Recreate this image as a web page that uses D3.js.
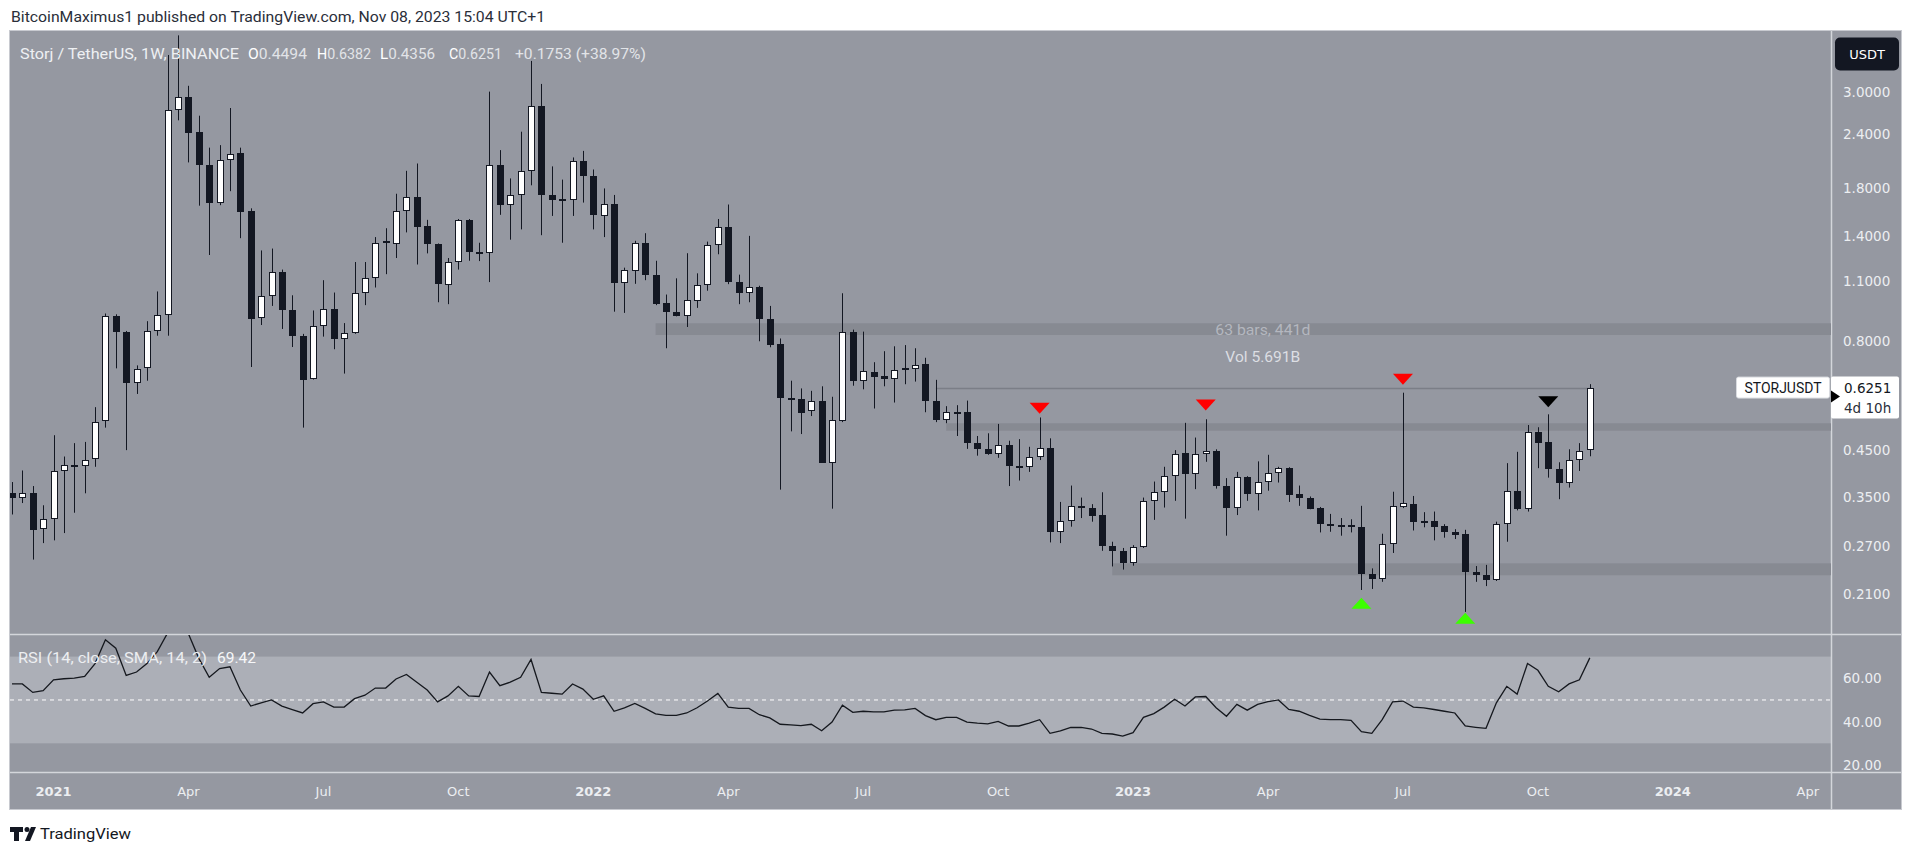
<!DOCTYPE html>
<html><head><meta charset="utf-8">
<script src="https://cdn.jsdelivr.net/npm/d3@7"></script>
<style>
html,body{margin:0;padding:0;background:#fff;overflow:hidden;}
svg{display:block;}
</style></head><body>
<svg id="chart" width="1909" height="848"></svg>
<script>
// ---------------- DATA ----------------
const firstWeek = "2020-12-07"; // weekly candles, Monday open
const opens = [0.358,0.350,0.358,0.297,0.312,0.402,0.416,0.414,0.429,0.526,
0.918,0.843,0.641,0.695,0.846,0.922,2.728,2.917,2.431,2.037,
1.670,2.095,2.173,1.593,0.905,1.016,1.159,0.946,0.825,0.657,
0.867,0.952,0.809,0.835,1.037,1.120,1.345,1.341,1.600,1.721,
1.479,1.341,1.080,1.219,1.524,1.283,1.277,2.033,1.653,1.739,
1.972,2.790,1.739,1.694,1.694,2.079,1.924,1.556,1.660,1.091,
1.163,1.350,1.140,0.980,0.937,0.918,0.990,1.080,1.336,1.464,
1.097,1.037,1.069,0.899,0.788,0.594,0.590,0.553,0.585,0.421,
0.526,0.843,0.650,0.680,0.667,0.657,0.690,0.690,0.709,0.585,
0.528,0.552,0.552,0.467,0.453,0.440,0.462,0.414,0.412,0.433,
0.456,0.292,0.309,0.334,0.331,0.319,0.271,0.264,0.248,0.270,
0.344,0.361,0.393,0.444,0.396,0.441,0.449,0.373,0.331,0.391,
0.356,0.381,0.398,0.410,0.356,0.350,0.331,0.304,0.303,0.303,
0.300,0.2335,0.227,0.273,0.333,0.338,0.307,0.309,0.301,0.291,
0.288,0.236,0.232,0.226,0.304,0.362,0.329,0.496,0.470,0.408,
0.379,0.427,0.4494];
const highs = [0.380,0.404,0.372,0.336,0.487,0.435,0.467,0.470,0.565,0.928,
0.924,0.846,0.705,0.891,1.043,3.65,4.05,3.10,2.646,2.234,
2.264,2.756,2.234,1.620,1.296,1.309,1.171,1.022,0.833,0.943,
1.107,1.037,0.882,1.219,1.219,1.391,1.458,1.750,1.976,2.054,
1.524,1.345,1.245,1.531,1.531,1.350,3.006,2.205,1.898,2.431,
3.537,3.131,2.023,1.886,2.121,2.196,1.990,1.800,1.739,1.183,
1.364,1.420,1.227,1.026,1.118,1.277,1.148,1.358,1.531,1.653,
1.140,1.400,1.075,0.966,0.813,0.650,0.624,0.616,0.631,0.597,
1.033,0.852,0.843,0.717,0.760,0.780,0.785,0.772,0.734,0.653,
0.568,0.571,0.585,0.485,0.492,0.517,0.473,0.477,0.458,0.535,
0.479,0.342,0.373,0.350,0.338,0.360,0.277,0.268,0.272,0.350,
0.381,0.412,0.450,0.520,0.481,0.530,0.452,0.388,0.401,0.392,
0.424,0.439,0.412,0.411,0.373,0.352,0.333,0.321,0.314,0.312,
0.335,0.2405,0.289,0.361,0.610,0.353,0.324,0.325,0.304,0.296,
0.295,0.2435,0.245,0.308,0.420,0.446,0.514,0.508,0.544,0.422,
0.452,0.467,0.6382];
const lows = [0.320,0.340,0.252,0.275,0.279,0.290,0.323,0.358,0.412,0.507,
0.694,0.450,0.606,0.650,0.825,0.825,2.582,2.066,1.643,1.265,
1.647,1.774,1.383,0.699,0.873,0.966,0.855,0.777,0.507,0.654,
0.821,0.768,0.675,0.833,0.970,1.065,1.143,1.245,1.426,1.203,
1.276,0.985,0.975,1.171,1.227,1.225,1.096,1.565,1.372,1.449,
1.830,1.405,1.556,1.350,1.556,1.670,1.449,1.391,0.937,0.931,
1.086,1.107,0.970,0.772,0.914,0.864,0.956,1.047,1.270,1.084,
0.975,0.985,0.801,0.776,0.365,0.497,0.490,0.539,0.421,0.330,
0.522,0.633,0.621,0.561,0.631,0.579,0.638,0.647,0.550,0.522,
0.519,0.485,0.453,0.437,0.439,0.432,0.372,0.383,0.401,0.427,
0.276,0.275,0.300,0.314,0.308,0.264,0.243,0.239,0.244,0.268,
0.311,0.332,0.344,0.313,0.366,0.423,0.367,0.286,0.319,0.344,
0.327,0.363,0.379,0.342,0.335,0.329,0.291,0.292,0.286,0.291,
0.2145,0.2157,0.224,0.261,0.331,0.294,0.299,0.279,0.283,0.281,
0.191,0.224,0.219,0.225,0.277,0.327,0.325,0.409,0.389,0.347,
0.369,0.403,0.4356];
const closes = [0.350,0.358,0.295,0.312,0.402,0.415,0.413,0.428,0.523,0.914,
0.841,0.643,0.691,0.846,0.922,2.728,2.917,2.420,2.033,1.670,
2.095,2.164,1.588,0.903,1.020,1.155,0.946,0.825,0.654,0.867,
0.952,0.809,0.835,1.037,1.120,1.350,1.352,1.600,1.721,1.469,
1.344,1.084,1.219,1.524,1.283,1.280,2.033,1.653,1.739,1.972,
2.790,1.739,1.694,1.697,2.079,1.924,1.562,1.660,1.091,1.166,
1.350,1.136,0.975,0.937,0.918,0.996,1.080,1.336,1.464,1.097,
1.037,1.069,0.899,0.785,0.594,0.592,0.548,0.585,0.421,0.528,
0.843,0.650,0.684,0.664,0.657,0.688,0.691,0.706,0.584,0.527,
0.552,0.550,0.467,0.453,0.441,0.462,0.414,0.413,0.433,0.456,
0.292,0.309,0.335,0.332,0.318,0.271,0.264,0.248,0.270,0.344,
0.361,0.393,0.440,0.396,0.441,0.449,0.372,0.331,0.391,0.356,
0.381,0.398,0.409,0.355,0.350,0.330,0.304,0.302,0.302,0.299,
0.2335,0.227,0.273,0.335,0.340,0.307,0.308,0.300,0.291,0.287,
0.236,0.232,0.226,0.304,0.362,0.329,0.496,0.468,0.407,0.379,
0.427,0.449,0.6251];
const rsiValues = [57.4,57.4,53.5,54.3,59.3,59.8,60.1,60.9,66.8,77.8,
73.9,61.3,62.9,66.8,72.3,81,84,80.5,69.2,60.5,
64.5,65.3,54.6,47.2,48.7,50,47.2,45.6,44,48.3,
49.1,46.7,46.7,50.6,52.2,55.5,55.5,59.7,61.8,58.2,
54.6,49.1,51.9,56.3,51.9,51.6,62.9,56.6,58.2,60.5,
68.7,53.5,53.1,52.7,57.4,55,50.3,51.9,44.8,46.4,
48.4,46.1,43.6,42.9,42.9,44,46.4,49.5,53,46.7,
46.1,46.1,43.2,41.7,38.8,38.5,38.2,38.8,35.8,39.8,
47.6,44.3,44.8,44.5,44.5,45.3,45.4,46.1,42.8,40.9,
42,42,39.8,39.3,39,40.1,38,38,39.3,40.9,
34.6,35.7,37.3,37.4,36.6,34.6,34.3,33.3,34.9,42,
43.7,46.7,50.3,47.2,51.4,51.6,46.4,42.5,48,45.3,
48,49.2,50,45.6,44.8,42.9,41.2,40.9,40.9,40.6,
35.4,34.6,40.9,49.1,49.5,46.7,46.4,45.6,44.8,44,
38,37.4,36.9,48.7,56.3,52.7,66.8,63.7,56.3,53.8,
57.4,59.3,69.42];

const priceTicks = [3.0,2.4,1.8,1.4,1.1,0.8,0.45,0.35,0.27,0.21];
const rsiTicks = [60,40,20];
const timeTickDates = ["2021-01-04","2021-04-05","2021-07-05","2021-10-04","2022-01-03","2022-04-04","2022-07-04","2022-10-03","2023-01-02","2023-04-03","2023-07-03","2023-10-02","2024-01-01","2024-04-01"];
const timeTickLabels = ["2021","Apr","Jul","Oct","2022","Apr","Jul","Oct","2023","Apr","Jul","Oct","2024","Apr"];

// drawn zones (start candle index, low price, high price)
const zoneStart = [62, 90, 106];
const zoneLow  = [0.828, 0.4987, 0.2319];
const zoneHigh = [0.881, 0.5187, 0.2470];
// horizontal line
const hLineStart = 89, hLineEnd = 152, hLinePrice = 0.624;
// markers
const markerIdx   = [99, 115, 134, 148, 130, 140];
const markerPrice = [0.5616, 0.5714, 0.6549, 0.5815, 0.1999, 0.1846];
const markerKind  = ["red","red","red","black","green","green"];
// measurement texts
const measureIdx = 120.5;
const measureText = ["63 bars, 441d", "Vol 5.691B"];
const measurePrice = [0.8504, 0.737];

const lastClose = 0.6251;
const legendParts = [["","Storj / TetherUS, 1W, BINANCE"],["O","0.4494"],["H","0.6382"],["L","0.4356"],["C","0.6251"],["","+0.1753 (+38.97%)"]];

// ---------------- LAYOUT ----------------
const svg = d3.select("#chart");
const weekMs = 7*24*3600*1000;
const t0 = new Date(firstWeek + "T00:00:00Z").getTime();
const dates = opens.map((_, i) => new Date(t0 + i*weekMs));

const plotL = 10, plotR = 1831, mainT = 31, mainB = 634, rsiT = 635, rsiB = 772, axB = 809, frameR = 1901;

const x = d3.scaleUtc().domain([dates[0], dates[dates.length-1]]).range([12, 1589.8]);
const xi = i => x(new Date(t0 + i*weekMs));
const y = d3.scaleLog().domain([0.21, 3.0]).range([594, 92]);
const yr = d3.scaleLinear().domain([20, 60]).range([765, 678.3]);

const BG = "#9598a1", DARK = "#131722";

// header
svg.append("text").attr("x", 11).attr("y", 21.5)
  .attr("font-family","Roboto, sans-serif").attr("font-size",15).attr("fill","#2a2e39")
  .attr("textLength",534).attr("lengthAdjust","spacingAndGlyphs")
  .text("BitcoinMaximus1 published on TradingView.com, Nov 08, 2023 15:04 UTC+1");

// frame
svg.append("rect").attr("x",plotL-0.5).attr("y",mainT-0.5).attr("width",frameR-plotL+1).attr("height",axB-mainT+1)
  .attr("fill",BG).attr("stroke","#c8cad0").attr("stroke-width",1);

const defs = svg.append("defs");
defs.append("clipPath").attr("id","clipMain").append("rect").attr("x",plotL).attr("y",mainT).attr("width",plotR-plotL).attr("height",mainB-mainT);
defs.append("clipPath").attr("id","clipRsi").append("rect").attr("x",plotL).attr("y",rsiT).attr("width",plotR-plotL).attr("height",rsiB-rsiT);

// RSI band
svg.append("rect").attr("x",plotL).attr("y",yr(70)).attr("width",plotR-plotL).attr("height",yr(30)-yr(70)).attr("fill","#acafb7");

// separators
svg.append("line").attr("x1",plotL).attr("x2",frameR).attr("y1",mainB+0.5).attr("y2",mainB+0.5).attr("stroke","#d4d6db").attr("stroke-width",1.5);
svg.append("line").attr("x1",plotL).attr("x2",frameR).attr("y1",rsiB+0.5).attr("y2",rsiB+0.5).attr("stroke","#d4d6db").attr("stroke-width",1.5);
svg.append("line").attr("x1",plotR+0.5).attr("x2",plotR+0.5).attr("y1",mainT).attr("y2",axB).attr("stroke","#d4d6db").attr("stroke-width",1.5);

const main = svg.append("g").attr("clip-path","url(#clipMain)");

// zones
main.selectAll("rect.zone").data(zoneStart).join("rect").attr("class","zone")
  .attr("x", d => xi(d)).attr("width", (d) => plotR - xi(d))
  .attr("y", (d,i) => y(zoneHigh[i])).attr("height", (d,i) => y(zoneLow[i]) - y(zoneHigh[i]))
  .attr("fill","#878a92");

// horizontal line
main.append("line").attr("x1",xi(hLineStart)).attr("x2",xi(hLineEnd)).attr("y1",y(hLinePrice)).attr("y2",y(hLinePrice))
  .attr("stroke","#7b7e87").attr("stroke-width",1.5);

// measure texts
main.selectAll("text.meas").data(measureText).join("text").attr("class","meas")
  .attr("x", xi(measureIdx)).attr("y",(d,i)=>y(measurePrice[i])).attr("dy","0.35em")
  .attr("text-anchor","middle").attr("font-family","Roboto, sans-serif").attr("font-size",15)
  .attr("fill",(d,i)=> i===0 ? "#b4b7bf" : "#dcdee3")
  .attr("textLength",(d,i)=> i===0 ? 95 : 75).attr("lengthAdjust","spacingAndGlyphs")
  .text(d=>d);

// candles
const idx = d3.range(opens.length);
const cg = main.append("g");
cg.selectAll("line.wick").data(idx).join("line").attr("class","wick")
  .attr("x1", i => Math.round(xi(i))+0.5).attr("x2", i => Math.round(xi(i))+0.5)
  .attr("y1", i => y(highs[i])).attr("y2", i => y(lows[i]))
  .attr("stroke", DARK).attr("stroke-width",1);
cg.selectAll("rect.body").data(idx).join("rect").attr("class","body")
  .each(function(i){
    const up = closes[i] >= opens[i];
    const cx = Math.round(xi(i));
    const top = Math.round(y(Math.max(opens[i],closes[i])));
    const bot = Math.round(y(Math.min(opens[i],closes[i])));
    const h = Math.max(1, bot-top);
    const r = d3.select(this);
    if (up && h >= 3) {
      r.attr("x", cx-3+0.5).attr("y", top+0.5).attr("width",6).attr("height",h-1)
       .attr("fill","#ffffff").attr("stroke",DARK).attr("stroke-width",1);
    } else if (up) {
      r.attr("x", cx-3).attr("y", top-1).attr("width",7).attr("height",Math.max(2,h+1)).attr("fill",DARK);
    } else {
      r.attr("x", cx-3).attr("y", top).attr("width",7).attr("height",Math.max(2,h)).attr("fill",DARK);
    }
  });

// markers
const markerFill = {red:"#ff0000", black:"#000000", green:"#3cff00"};
main.selectAll("path.marker").data(markerIdx).join("path").attr("class","marker")
  .attr("d",(d,i)=>{
    const cx = xi(d), cy = y(markerPrice[i]);
    return markerKind[i]==="green"
      ? `M${cx-10},${cy+5.5}L${cx+10},${cy+5.5}L${cx},${cy-5.5}Z`
      : `M${cx-10},${cy-5.5}L${cx+10},${cy-5.5}L${cx},${cy+5.5}Z`;
  })
  .attr("fill",(d,i)=>markerFill[markerKind[i]]);

// legend
const legendX = [20, 248, 317, 380, 449, 515];
const legendW = [219, 59, 54, 55, 53, 131];
legendParts.forEach((p,i)=>{
  const t = svg.append("text").attr("x",legendX[i]).attr("y",58.5)
    .attr("font-family","Roboto, sans-serif").attr("font-size",15)
    .attr("textLength",legendW[i]).attr("lengthAdjust","spacingAndGlyphs");
  if (p[0]) t.append("tspan").attr("fill","#ffffff").text(p[0]);
  t.append("tspan").attr("fill", i===0 ? "#eef0f3" : "#e2e4e8").text(p[1]);
});

// price axis labels
svg.selectAll("text.ptick").data(priceTicks).join("text").attr("class","ptick")
  .attr("x",1843).attr("y",d=>y(d)).attr("dy","0.36em")
  .attr("font-family","DejaVu Sans, sans-serif").attr("font-size",13.5).attr("fill","#eceef1")
  .text(d=>d3.format(".4f")(d));

// USDT box
svg.append("rect").attr("x",1835).attr("y",37.5).attr("width",64).attr("height",33).attr("rx",5).attr("fill",DARK);
svg.append("text").attr("x",1867).attr("y",54).attr("dy","0.36em").attr("text-anchor","middle")
  .attr("font-family","DejaVu Sans, sans-serif").attr("font-size",13).attr("fill","#ffffff").text("USDT");

// last price label
const yl = y(lastClose);
svg.append("rect").attr("x",1736.5).attr("y",yl-11).attr("width",93).attr("height",21).attr("rx",2)
  .attr("fill","#ffffff").attr("stroke","#d9dbe0");
svg.append("text").attr("x",1783).attr("y",yl-0.5).attr("dy","0.36em").attr("text-anchor","middle")
  .attr("font-family","Roboto, sans-serif").attr("font-size",15).attr("fill",DARK)
  .attr("textLength",77).attr("lengthAdjust","spacingAndGlyphs").text("STORJUSDT");
svg.append("rect").attr("x",1831).attr("y",yl-11.5).attr("width",68).attr("height",42).attr("rx",2).attr("fill","#ffffff");
svg.append("path").attr("d",`M1831,${yl+2.5}L1840,${yl+8.5}L1831,${yl+14.5}Z`).attr("fill","#000");
svg.append("text").attr("x",1844).attr("y",yl).attr("dy","0.36em")
  .attr("font-family","DejaVu Sans, sans-serif").attr("font-size",13.5).attr("fill",DARK)
  .text(d3.format(".4f")(lastClose));
svg.append("text").attr("x",1844).attr("y",yl+20).attr("dy","0.36em")
  .attr("font-family","DejaVu Sans, sans-serif").attr("font-size",13.5).attr("fill","#2a2e39")
  .text("4d 10h");

// RSI pane
const rsiG = svg.append("g").attr("clip-path","url(#clipRsi)");
rsiG.append("line").attr("x1",plotL).attr("x2",plotR).attr("y1",yr(50)).attr("y2",yr(50))
  .attr("stroke","#ffffff").attr("stroke-width",1).attr("stroke-dasharray","4 4");
rsiG.append("path").datum(idx)
  .attr("d", d3.line().x(i=>xi(i)).y(i=>yr(rsiValues[i])))
  .attr("fill","none").attr("stroke","#15181e").attr("stroke-width",1.3);

svg.append("text").attr("x",18).attr("y",663)
  .attr("font-family","Roboto, sans-serif").attr("font-size",15).attr("fill","#eceef1")
  .attr("textLength",189).attr("lengthAdjust","spacingAndGlyphs").text("RSI (14, close, SMA, 14, 2)");
svg.append("text").attr("x",217).attr("y",663)
  .attr("font-family","Roboto, sans-serif").attr("font-size",15).attr("fill","#f6f7f9")
  .attr("textLength",39).attr("lengthAdjust","spacingAndGlyphs").text(d3.format(".2f")(rsiValues[rsiValues.length-1]));

svg.selectAll("text.rtick").data(rsiTicks).join("text").attr("class","rtick")
  .attr("x",1843).attr("y",d=>yr(d)).attr("dy","0.36em")
  .attr("font-family","DejaVu Sans, sans-serif").attr("font-size",13.5).attr("fill","#eceef1")
  .text(d=>d3.format(".2f")(d));

// time axis
svg.selectAll("text.ttick").data(timeTickDates).join("text").attr("class","ttick")
  .attr("x",d=>x(new Date(d+"T00:00:00Z"))).attr("y",791).attr("dy","0.36em").attr("text-anchor","middle")
  .attr("font-family","DejaVu Sans, sans-serif").attr("font-size",13)
  .attr("font-weight",(d,i)=>/^\d{4}$/.test(timeTickLabels[i]) ? "bold" : "normal")
  .attr("fill","#eceef1")
  .text((d,i)=>timeTickLabels[i]);

// footer logo
const logo = svg.append("g").attr("fill",DARK);
logo.append("path").attr("d","M10,827h13v5h-4v9h-5v-9h-4z");
logo.append("circle").attr("cx",27).attr("cy",829.5).attr("r",2.5);
logo.append("path").attr("d","M31,827h5l-6,14h-5z");
svg.append("text").attr("x",40).attr("y",838.5)
  .attr("font-family","Roboto, sans-serif").attr("font-size",15).attr("fill",DARK)
  .attr("textLength",91).attr("lengthAdjust","spacingAndGlyphs").text("TradingView");
</script>
</body></html>
